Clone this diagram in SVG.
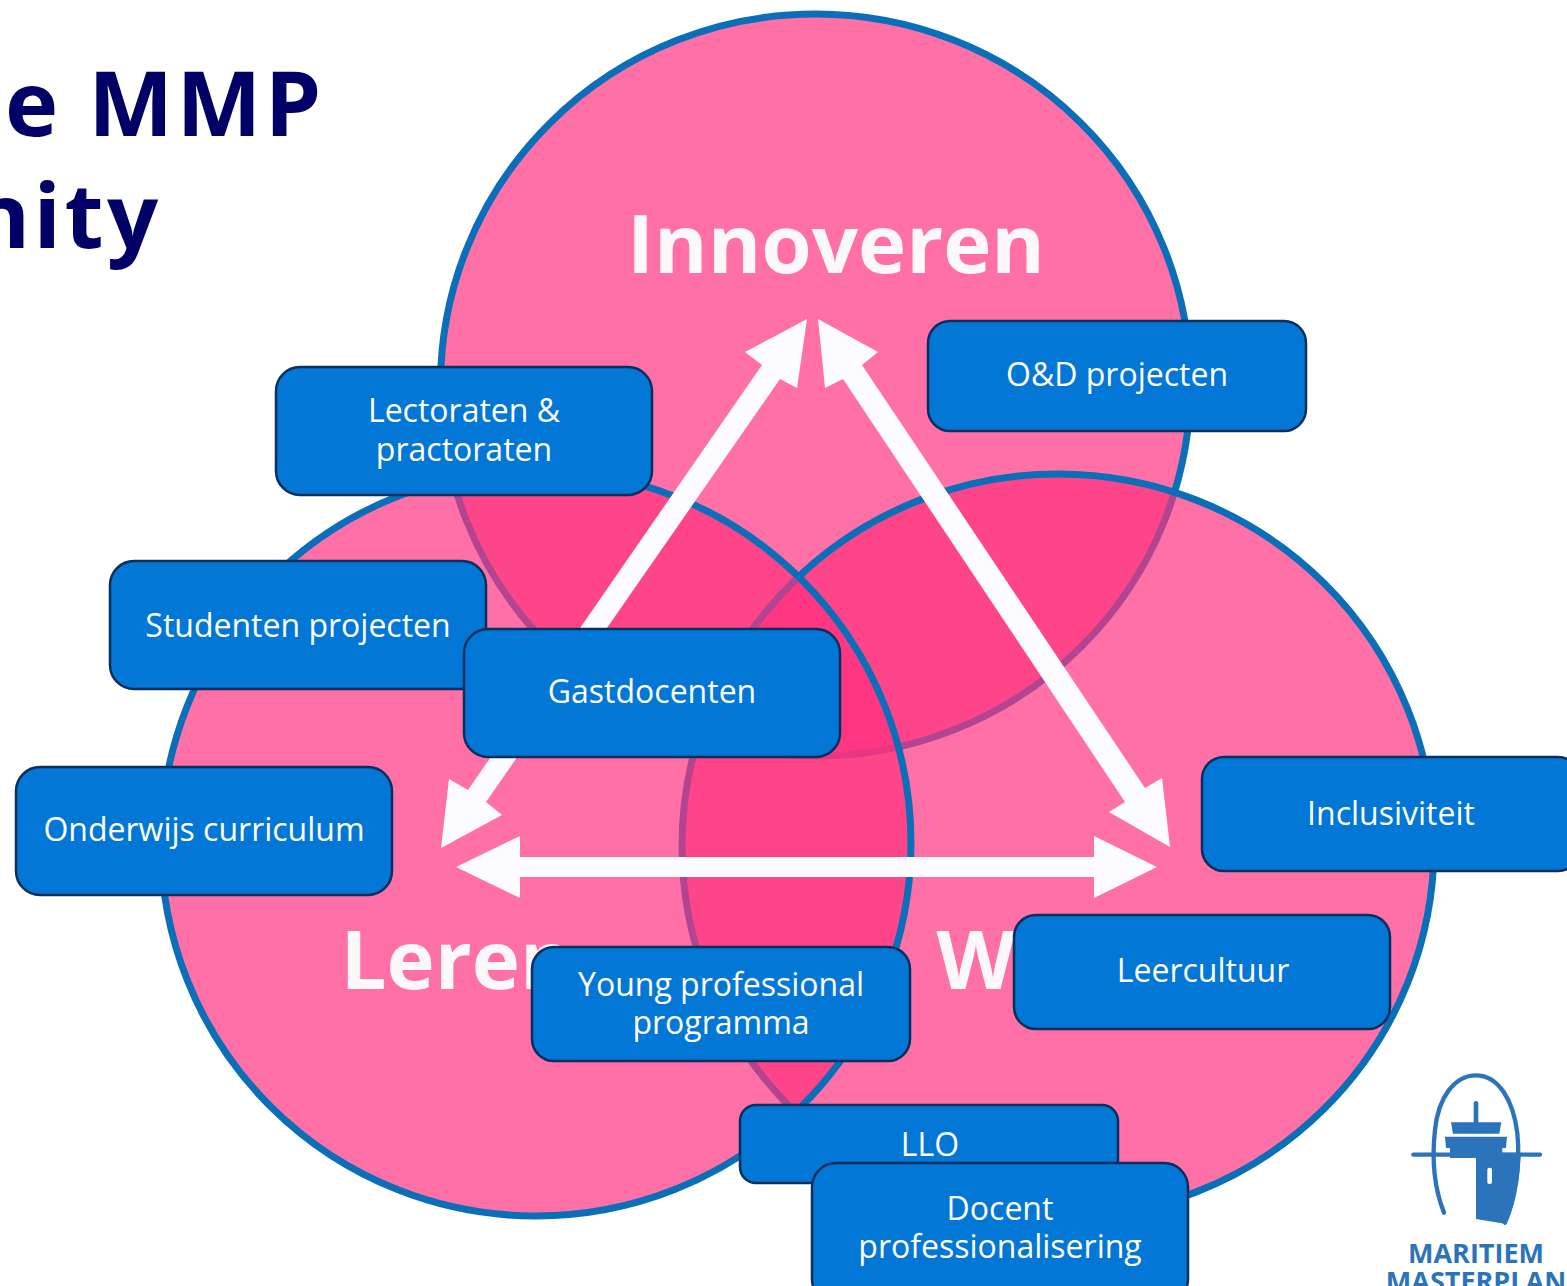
<svg xmlns="http://www.w3.org/2000/svg" width="1567" height="1286" viewBox="0 0 1567 1286">
<style>
.c{fill:none;stroke:#0A6FB8;stroke-width:7}
.f{fill:#FF317E;fill-opacity:.69}
.a{fill:#FCFBFD}
.b{fill:#0277D6;stroke:#0B2F5C;stroke-width:2.5}
.t{font-family:"Open Sans","Noto Sans",sans-serif;font-size:32px;fill:#fff;text-anchor:middle}
.h{font-family:"Open Sans","Noto Sans",sans-serif;font-weight:700;font-size:81.5px;fill:#FCF8FA;text-anchor:middle}
.ti{font-family:"Open Sans","Noto Sans",sans-serif;font-weight:700;font-size:90px;fill:#000066;letter-spacing:3.4px}
.l{fill:#2B73BA}
.ls{fill:none;stroke:#2B73BA;stroke-linecap:round}
.lt{font-family:"Open Sans","Noto Sans",sans-serif;font-weight:700;font-size:27px;fill:#2B73BA;text-anchor:middle}
</style>
<rect width="1567" height="1286" fill="#fff"/>
<g id="title">
<text class="ti" x="5" y="136">e MMP</text>
<text class="ti" x="-29" y="248">nity</text>
</g>
<g id="venn">
<g id="circle-innoveren"><ellipse class="f" cx="815.5" cy="385" rx="375" ry="371"/><ellipse class="c" cx="815.5" cy="385" rx="375" ry="371"/></g>
<g id="circle-werken"><ellipse class="f" cx="1058" cy="846" rx="376" ry="372"/><ellipse class="c" cx="1058" cy="846" rx="376" ry="372"/></g>
<g id="circle-leren"><ellipse class="f" cx="536" cy="843" rx="375" ry="373"/><ellipse class="c" cx="536" cy="843" rx="375" ry="373"/></g>
</g>
<g id="label-innoveren"><text class="h" x="836" y="273">Innoveren</text></g>
<g id="label-leren"><text class="h" x="457" y="989">Leren</text></g>
<g id="label-werken"><text class="h" x="976" y="989">W</text></g>
<g id="connectors">
<polygon class="a" points="807,319 797,388 780,379 486,802 502,815 441,848 449,779 468,790 762,365 745,352"/>
<polygon class="a" points="818,319 878,352 862,365 1145,788 1162,778 1170,847 1109,812 1125,802 843,379 825,388"/>
<polygon class="a" points="456,867 520,836 520,857 1094,857 1094,836 1157,867 1094,898 1094,877 520,877 520,898"/>
</g>
<g id="node-lectoraten"><rect class="b" x="276" y="367" width="376" height="128" rx="24"/><text class="t" x="464" y="422">Lectoraten &amp;</text><text class="t" x="464" y="461">practoraten</text></g>
<g id="node-od"><rect class="b" x="928" y="321" width="378" height="110" rx="22"/><text class="t" x="1117" y="386">O&amp;D projecten</text></g>
<g id="node-studenten"><rect class="b" x="110" y="561" width="376" height="128" rx="24"/><text class="t" x="298" y="637">Studenten projecten</text></g>
<g id="node-gastdocenten"><rect class="b" x="464" y="629" width="376" height="128" rx="24"/><text class="t" x="652" y="703">Gastdocenten</text></g>
<g id="node-onderwijs"><rect class="b" x="16" y="767" width="376" height="128" rx="24"/><text class="t" x="204" y="841">Onderwijs curriculum</text></g>
<g id="node-inclusiviteit"><rect class="b" x="1202" y="757" width="378" height="114" rx="22"/><text class="t" x="1391" y="825">Inclusiviteit</text></g>
<g id="node-leercultuur"><rect class="b" x="1014" y="915" width="376" height="114" rx="22"/><text class="t" x="1203" y="982">Leercultuur</text></g>
<g id="node-young"><rect class="b" x="532" y="947" width="378" height="114" rx="22"/><text class="t" x="721" y="996">Young professional</text><text class="t" x="721" y="1034">programma</text></g>
<g id="node-llo"><rect class="b" x="740" y="1105" width="378" height="78" rx="16"/><text class="t" x="930" y="1156">LLO</text></g>
<g id="node-docent"><rect class="b" x="812" y="1163" width="376" height="140" rx="24"/><text class="t" x="1000" y="1220">Docent</text><text class="t" x="1000" y="1258">professionalisering</text></g>
<g id="logo">
<g transform="translate(1380 1060) scale(.3333)">
<path class="ls" stroke-width="13" d="M192 458C165 390 155 300 165 210C175 110 225 46 288 46C355 46 400 120 412 220C422 320 405 420 375 488"/>
<path class="ls" stroke-width="13" d="M100 284H480"/>
<path class="ls" stroke-width="14" d="M288 130V190"/>
<path class="l" d="M213 187H364L358 221H219Z"/>
<path class="l" d="M195 230H381L378 264H367V278H422C420 360 405 430 375 491L288 477V294H210V264H198Z"/>
<rect x="322" y="323" width="14" height="49" rx="6" fill="#fff"/>
</g>
<text class="lt" x="1476" y="1263">MARITIEM</text>
<text class="lt" x="1476" y="1291">MASTERPLAN</text>
</g>
</svg>
